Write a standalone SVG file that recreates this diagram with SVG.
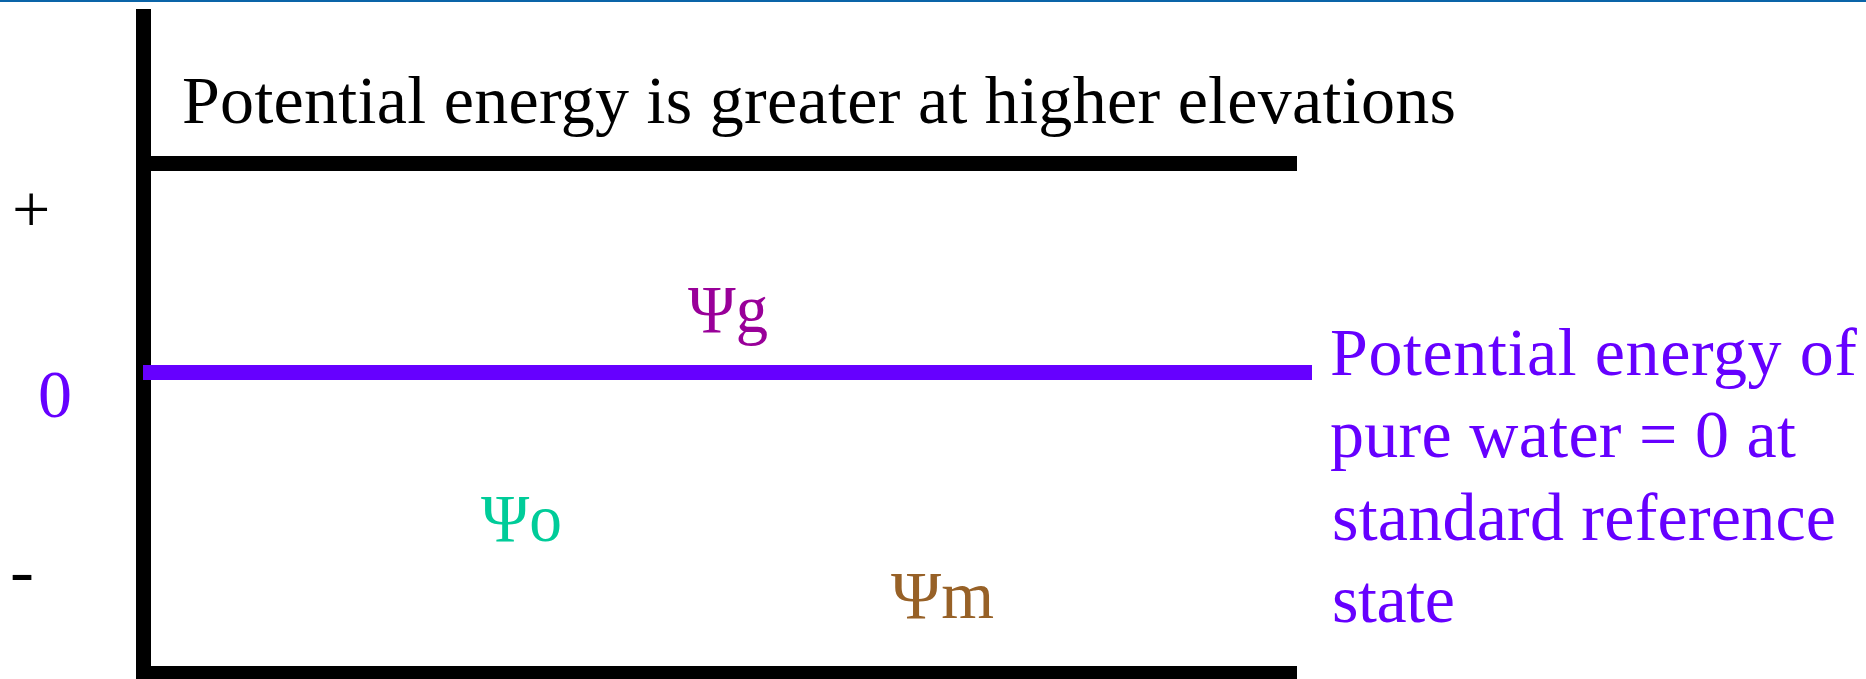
<svg xmlns="http://www.w3.org/2000/svg" width="1866" height="679" viewBox="0 0 1866 679">
<style>
text{font-family:"Liberation Serif","Times New Roman",serif;font-size:68px}
.blk{fill:#000}
.pur{fill:#6600FF}
</style>
<rect x="0" y="0" width="1866" height="679" fill="#fff"/>
<rect x="0" y="0" width="1866" height="2" fill="#0A64A8"/>
<g id="axes">
<rect x="136" y="9" width="15" height="670" class="blk"/>
<rect x="136" y="156" width="1161" height="15" class="blk"/>
<rect x="136" y="666" width="1161" height="13" class="blk"/>
<rect x="143" y="365" width="1169" height="15" class="pur"/>
</g>
<g id="title">
<text x="182" y="123" class="blk" textLength="1274" lengthAdjust="spacing">Potential energy is greater at higher elevations</text>
</g>
<g id="scale">
<text x="12" y="232" class="blk">+</text>
<text x="38" y="417" class="pur" font-size="65">0</text>
<text x="10" y="593" class="blk" textLength="24" lengthAdjust="spacingAndGlyphs">-</text>
</g>
<g id="psi-g"><text x="688" y="332" fill="#990099" textLength="80" lengthAdjust="spacingAndGlyphs">Ψg</text></g>
<g id="psi-o"><text x="481" y="541" fill="#00CC99" textLength="81" lengthAdjust="spacingAndGlyphs">Ψo</text></g>
<g id="psi-m"><text x="891" y="618" fill="#976127" textLength="103" lengthAdjust="spacingAndGlyphs">Ψm</text></g>
<g id="reference-note" class="pur">
<text x="1330" y="375" textLength="527" lengthAdjust="spacing">Potential energy of</text>
<text x="1330" y="457" textLength="466" lengthAdjust="spacing">pure water = 0 at</text>
<text x="1332" y="540" textLength="504" lengthAdjust="spacing">standard reference</text>
<text x="1332" y="622" textLength="123" lengthAdjust="spacing">state</text>
</g>
</svg>
